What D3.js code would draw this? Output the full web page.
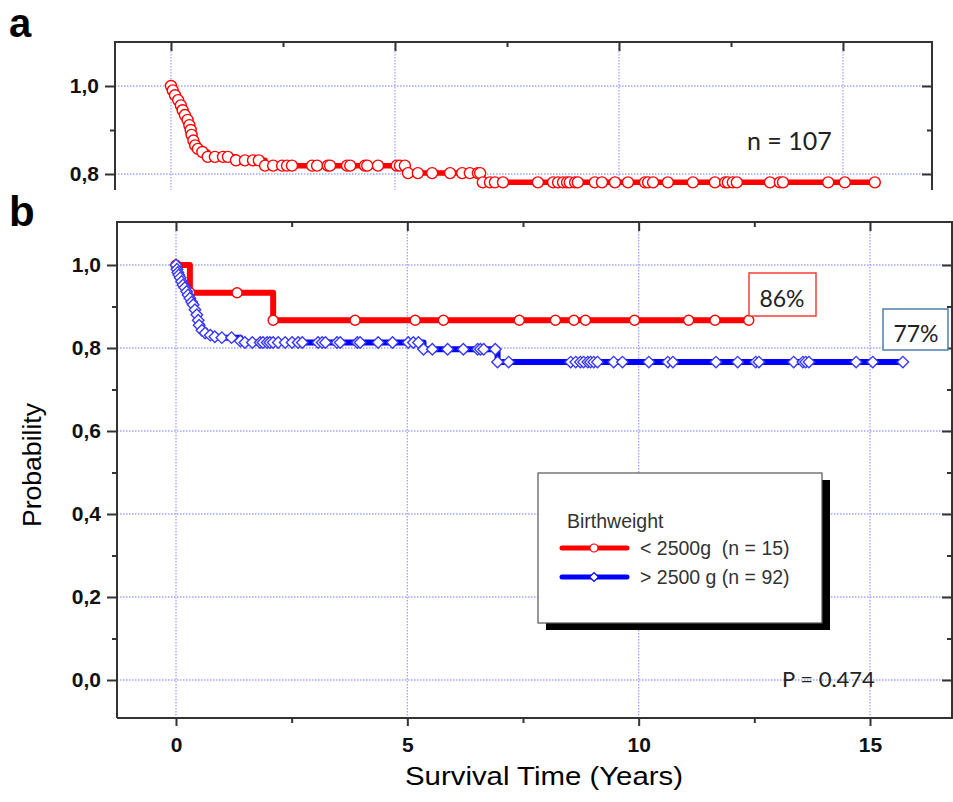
<!DOCTYPE html>
<html>

<head>
	<meta charset="utf-8">
	<title>Survival by birthweight</title>
	<script src="https://d3js.org/d3.v7.min.js"></script>
</head>

<style>
	body {
		margin: 0;
		background: #fff;
	}

	svg {
		font-family: "Liberation Sans", Arial, sans-serif;
	}

	.grid line {
		stroke: #a3a3ff;
		stroke-dasharray: 1.5, 1.5;
		stroke-width: 1.3;
	}

	.frame {
		stroke: #333;
		stroke-width: 2;
		fill: none;
	}

	.axis text {
		font-weight: bold;
		font-size: 21px;
		fill: #111;
	}

	.axis line {
		stroke: #333;
		stroke-width: 2;
	}

	.note {
		font-family: Lato, "Open Sans", sans-serif;
		fill: #222;
	}
</style>

<body>
	<svg id="fig" width="953" height="802"></svg>
</body>
<script>
	// tick values
	var xTicks = [0, 5, 10, 15],
		xMinor = [2.5, 7.5, 12.5],
		yTicksA = [0.8, 1.0],
		yMinorA = [0.9],
		yTicksB = [0, 0.2, 0.4, 0.6, 0.8, 1.0],
		yMinorB = [0.1, 0.3, 0.5, 0.7, 0.9];

	// panel a : all patients (n = 107), years / survival
	var allTime = [0, 0.04, 0.09, 0.16, 0.22, 0.26, 0.31, 0.37, 0.41, 0.44, 0.46, 0.5, 0.54, 0.6, 0.7, 0.82, 0.98, 1.16, 1.27,
		1.45, 1.65, 1.83, 1.96,
		2.1, 2.28, 2.48, 2.59, 2.7, 3.15, 3.26, 3.5, 3.55, 3.93, 4.0, 4.33, 4.38, 4.62, 5.04, 5.11, 5.22,
		5.29, 5.51, 5.83, 6.23, 6.5, 6.67, 6.85, 6.9,
		6.96, 7.12, 7.23, 7.41, 8.19, 8.53, 8.64, 8.75, 8.84, 8.9, 9.02, 9.08, 9.46, 9.62, 9.91, 10.2, 10.58, 10.65, 10.76,
		11.09, 11.65, 12.14, 12.37, 12.43, 12.54, 12.63, 13.37, 13.59, 13.66, 14.67, 15.04, 15.71];
	var allSurv = [1.0, 0.99, 0.979, 0.968, 0.956, 0.945, 0.934, 0.923, 0.911, 0.9, 0.889, 0.876, 0.865, 0.857, 0.85, 0.839, 0.839, 0.839, 0.839,
		0.831, 0.831, 0.831, 0.831,
		0.819, 0.819, 0.819, 0.819, 0.819, 0.819, 0.819, 0.819, 0.819, 0.819, 0.819, 0.819, 0.819, 0.819, 0.819, 0.819, 0.819,
		0.802, 0.802, 0.802, 0.802, 0.802, 0.802, 0.802, 0.802,
		0.781, 0.781, 0.781, 0.781, 0.781, 0.781, 0.781, 0.781, 0.781, 0.781, 0.781, 0.781, 0.781, 0.781, 0.781, 0.781, 0.781, 0.781, 0.781,
		0.781, 0.781, 0.781, 0.781, 0.781, 0.781, 0.781, 0.781, 0.781, 0.781, 0.781, 0.781, 0.781];

	// panel b : < 2500g (n = 15)
	var lowTime = [0, 0.3, 1.32, 2.1, 3.87, 5.17, 5.78, 7.42, 8.2, 8.6, 8.85, 9.91, 11.08, 11.65, 12.38];
	var lowSurv = [1.0, 0.933, 0.933, 0.867, 0.867, 0.867, 0.867, 0.867, 0.867, 0.867, 0.867, 0.867, 0.867, 0.867, 0.867];

	// panel b : > 2500 g (n = 92)
	var highTime = [0, 0.02, 0.04, 0.06, 0.09, 0.12, 0.15, 0.19, 0.23, 0.26, 0.3, 0.34, 0.37, 0.41, 0.45, 0.48, 0.5, 0.56, 0.63, 0.74, 0.84, 0.99, 1.2, 1.39, 1.49,
		1.65, 1.82, 1.88, 1.97, 2.03, 2.1, 2.21, 2.36, 2.51, 2.64, 2.73, 3.07, 3.16, 3.23, 3.48, 3.55, 3.92, 3.98, 4.37, 4.68, 5.02, 5.13, 5.24,
		5.35, 5.54, 5.87, 6.21, 6.52, 6.58, 6.65, 6.9,
		6.95, 7.19, 8.53, 8.64, 8.74, 8.81, 8.9, 8.96, 9.03, 9.11, 9.46, 9.65, 10.22, 10.63, 10.74, 11.67, 12.14, 12.53, 12.6,
		13.35, 13.55, 13.61, 13.68, 14.7, 15.06, 15.71];
	var highSurv = [1.0, 0.99, 0.982, 0.976, 0.969, 0.96, 0.952, 0.945, 0.936, 0.928, 0.92, 0.911, 0.904, 0.892, 0.88, 0.867, 0.855, 0.843, 0.836, 0.831, 0.827, 0.825, 0.825, 0.817, 0.813,
		0.813, 0.813, 0.813, 0.813, 0.813, 0.813, 0.813, 0.813, 0.813, 0.813, 0.813, 0.813, 0.813, 0.813, 0.813, 0.813, 0.813, 0.813, 0.813, 0.813, 0.813, 0.813, 0.813,
		0.797, 0.797, 0.797, 0.797, 0.797, 0.797, 0.797, 0.797,
		0.766, 0.766, 0.766, 0.766, 0.766, 0.766, 0.766, 0.766, 0.766, 0.766, 0.766, 0.766, 0.766, 0.766, 0.766, 0.766, 0.766, 0.766, 0.766,
		0.766, 0.766, 0.766, 0.766, 0.766, 0.766, 0.766];

	var svg = d3.select("#fig");
	var comma = function (d) {
		return d3.format(".1f")(d).replace(".", ",");
	};

	function zip(t, s) {
		return t.map(function (d, i) {
			return [d, s[i]];
		});
	}

	// frame, grid and ticks of one panel
	function panel(box, x, y, yMajor, yMinor, opts) {
		var g = svg.append("g");

		var grid = g.append("g").attr("class", "grid");
		grid.selectAll(".gx").data(xTicks).enter().append("line")
			.attr("x1", x).attr("x2", x)
			.attr("y1", box.top).attr("y2", box.bottom);
		grid.selectAll(".gy").data(yMajor).enter().append("line")
			.attr("y1", y).attr("y2", y)
			.attr("x1", box.left).attr("x2", box.right);

		function ax(axis, tx, ty) {
			var a = g.append("g").attr("class", "axis")
				.attr("transform", "translate(" + tx + "," + ty + ")")
				.call(axis);
			a.select(".domain").remove();
			return a;
		}

		// left (outward) and right (inward)
		ax(d3.axisLeft(y).tickValues(yMajor).tickSize(10).tickPadding(6).tickFormat(comma), box.left, 0);
		ax(d3.axisLeft(y).tickValues(yMinor).tickSize(5).tickFormat(""), box.left, 0);
		ax(d3.axisLeft(y).tickValues(yMajor).tickSize(10).tickFormat(""), box.right, 0);
		ax(d3.axisLeft(y).tickValues(yMinor).tickSize(5).tickFormat(""), box.right, 0);
		// top (inward)
		ax(d3.axisBottom(x).tickValues(xTicks).tickSize(9).tickFormat(""), 0, box.top);
		ax(d3.axisBottom(x).tickValues(xMinor).tickSize(5).tickFormat(""), 0, box.top);
		if (opts.bottom) {
			ax(d3.axisBottom(x).tickValues(xTicks).tickSize(8).tickPadding(11).tickFormat(d3.format("d")), 0, box.bottom);
			ax(d3.axisBottom(x).tickValues(xMinor).tickSize(5).tickFormat(""), 0, box.bottom);
		}

		var p = "M" + box.left + "," + box.bottom + "V" + box.top + "H" + box.right + "V" + box.bottom;
		if (opts.bottom) p += "H" + box.left;
		g.append("path").attr("class", "frame").attr("d", p);

		var id = "clip" + Math.round(box.top);
		svg.append("clipPath").attr("id", id).append("rect")
			.attr("x", box.left).attr("y", box.top)
			.attr("width", box.right - box.left).attr("height", box.bottom - box.top);
		return svg.append("g").attr("clip-path", "url(#" + id + ")");
	}

	function curve(g, x, y, data, color, width, marker, r) {
		var line = d3.line()
			.x(function (d) { return x(d[0]); })
			.y(function (d) { return y(d[1]); })
			.curve(d3.curveStepAfter);
		g.append("path")
			.attr("d", line(data))
			.attr("fill", "none")
			.attr("stroke", color)
			.attr("stroke-width", width)
			.attr("stroke-linejoin", "round");
		if (marker == "circle") {
			g.selectAll(null).data(data).enter().append("circle")
				.attr("cx", function (d) { return x(d[0]); })
				.attr("cy", function (d) { return y(d[1]); })
				.attr("r", r)
				.attr("fill", "#fff")
				.attr("stroke", color)
				.attr("stroke-width", 1.4);
		} else {
			g.selectAll(null).data(data).enter().append("path")
				.attr("d", d3.symbol(d3.symbolSquare, 66)())
				.attr("transform", function (d) {
					return "translate(" + x(d[0]) + "," + y(d[1]) + ") rotate(45)";
				})
				.attr("fill", "#fff")
				.attr("stroke", "#3838ff")
				.attr("stroke-width", 1.4);
		}
	}

	// ---- panel a
	var xa = d3.scaleLinear().domain([0, 15]).range([171, 843]),
		ya = d3.scaleLinear().domain([0.8, 1.0]).range([174, 86]);
	var ga = panel({ left: 115, right: 932, top: 42, bottom: 190 }, xa, ya, yTicksA, yMinorA, { bottom: false });
	curve(ga, xa, ya, zip(allTime, allSurv), "#ff0000", 5.5, "circle", 5.5);

	svg.append("text").attr("x", 747).attr("y", 150).attr("class", "note")
		.attr("font-size", 25).text("n = 107");

	// ---- panel b
	var xb = d3.scaleLinear().domain([0, 15]).range([176, 870]),
		yb = d3.scaleLinear().domain([0, 1]).range([680, 265]);
	var gb = panel({ left: 117, right: 952, top: 222, bottom: 718 }, xb, yb, yTicksB, yMinorB, { bottom: true });
	curve(gb, xb, yb, zip(lowTime, lowSurv), "#ff0000", 6, "circle", 5);
	curve(gb, xb, yb, zip(highTime, highSurv), "#0000ff", 6, "diamond");

	// panel letters
	svg.append("text").attr("x", 9).attr("y", 37).attr("font-size", 40).attr("font-weight", "bold").text("a");
	svg.append("text").attr("x", 9).attr("y", 226).attr("font-size", 42).attr("font-weight", "bold").text("b");

	// axis titles
	svg.append("text")
		.attr("transform", "translate(41,465) rotate(-90)")
		.attr("text-anchor", "middle")
		.attr("font-size", 25)
		.attr("textLength", 124).attr("lengthAdjust", "spacingAndGlyphs")
		.text("Probability");
	svg.append("text")
		.attr("x", 544).attr("y", 785)
		.attr("text-anchor", "middle")
		.attr("font-size", 25)
		.attr("textLength", 278).attr("lengthAdjust", "spacingAndGlyphs")
		.text("Survival Time (Years)");

	// end labels
	svg.append("rect").attr("x", 749).attr("y", 273).attr("width", 67).attr("height", 43)
		.attr("fill", "#fff").attr("stroke", "#ff3b3b").attr("stroke-width", 1.5);
	svg.append("text").attr("class", "note").attr("x", 782).attr("y", 307).attr("text-anchor", "middle")
		.attr("font-size", 23).text("86%");
	svg.append("rect").attr("x", 883).attr("y", 309).attr("width", 65).attr("height", 41)
		.attr("fill", "#fff").attr("stroke", "#4f7fae").attr("stroke-width", 1.5);
	svg.append("text").attr("class", "note").attr("x", 916).attr("y", 342).attr("text-anchor", "middle")
		.attr("font-size", 23).text("77%");

	svg.append("text").attr("class", "note").attr("x", 782).attr("y", 687)
		.attr("font-size", 22).text("P = 0.474");

	// legend
	var lg = svg.append("g").attr("transform", "translate(538,473)");
	lg.append("rect").attr("x", 8).attr("y", 7).attr("width", 284).attr("height", 150).attr("fill", "#000");
	lg.append("rect").attr("width", 284).attr("height", 150).attr("fill", "#fff")
		.attr("stroke", "#555").attr("stroke-width", 1.2);
	lg.append("text").attr("x", 29).attr("y", 55).attr("font-size", 19.5).attr("fill", "#333").text("Birthweight");

	var legendItems = [
		{ label: "< 2500g  (n = 15)", color: "#ff0000", marker: "circle" },
		{ label: "> 2500 g (n = 92)", color: "#0000ff", marker: "diamond" }
	];
	var row = lg.selectAll(".row").data(legendItems).enter().append("g")
		.attr("transform", function (d, i) { return "translate(0," + (75 + i * 29) + ")"; });
	row.append("line").attr("x1", 24).attr("x2", 89)
		.attr("stroke", function (d) { return d.color; })
		.attr("stroke-width", 5).attr("stroke-linecap", "round");
	row.each(function (d) {
		var r = d3.select(this);
		if (d.marker == "circle") {
			r.append("circle").attr("cx", 56).attr("r", 4).attr("fill", "#fff").attr("stroke", d.color).attr("stroke-width", 1.2);
		} else {
			r.append("path").attr("d", d3.symbol(d3.symbolSquare, 40)())
				.attr("transform", "translate(56,0) rotate(45)")
				.attr("fill", "#fff").attr("stroke", d.color).attr("stroke-width", 1.2);
		}
	});
	row.append("text").attr("x", 102).attr("dy", "0.35em").attr("font-size", 19.5).attr("fill", "#333")
		.attr("xml:space", "preserve").style("white-space", "pre")
		.text(function (d) { return d.label; });
</script>

</html>
